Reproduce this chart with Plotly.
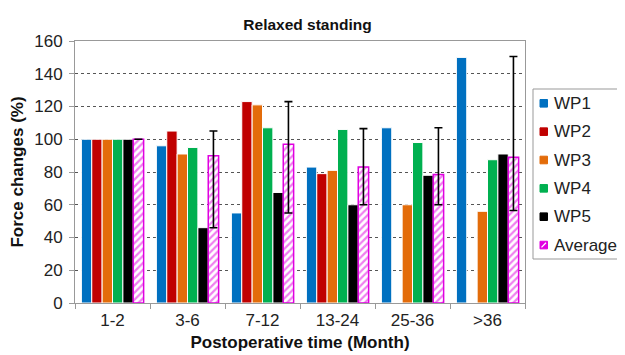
import plotly.graph_objects as go

categories = ["1-2", "3-6", "7-12", "13-24", "25-36", ">36"]
wp1 = [100, 96, 55, 83, 107, 150]
wp2 = [100, 105, 123, 79, None, None]
wp3 = [100, 91, 121, 81, 60, 56]
wp4 = [100, 95, 107, 106, 98, 87.5]
wp5 = [100, 46, 67.5, 60, 78, 91]
average = [100, 90, 97, 83, 78.5, 89]
err_max = [100, 105, 123, 106.5, 107, 150.5]
err_min = [100, 46, 55, 60, 60, 56.5]

names = ["WP1", "WP2", "WP3", "WP4", "WP5"]
colors = ["#0070C0", "#C00000", "#E36C0A", "#00B050", "#000000"]
values = [wp1, wp2, wp3, wp4, wp5]
avg_color = "#E000E0"

# figure geometry (the page body adds an 8px offset, so the figure is 617x347)
W, H = 617, 347
ML, MR, MT, MB = 67, 100, 33, 52
PW, PH = W - ML - MR, H - MT - MB

def px(x):
    return (x - ML) / PW

def py(y):
    return (H - MB - y) / PH

fig = go.Figure()
for name, vals, col in zip(names, values, colors):
    fig.add_trace(go.Bar(x=categories, y=vals, name=name,
                         marker=dict(color=col, line=dict(color="white", width=1))))

plus = [mx - a for mx, a in zip(err_max, average)]
minus = [a - mn for mn, a in zip(err_min, average)]
fig.add_trace(go.Bar(
    x=categories, y=average, name="Average",
    marker=dict(color="white", line=dict(color=avg_color, width=1.5),
                pattern=dict(shape="/", fgcolor=avg_color, bgcolor="white", size=5, solidity=0.45)),
    error_y=dict(type="data", symmetric=False, array=plus, arrayminus=minus,
                 color="black", thickness=1.6, width=4, visible=True)))

# legend drawn as a boxed key at the right (running past the page edge as in the source)
shapes = []
annotations = []
shapes.append(dict(type="rect", xref="paper", yref="paper",
                   x0=px(525), x1=px(640), y0=py(251), y1=py(81),
                   line=dict(color="#999999", width=1), fillcolor="white", layer="above"))
legend_names = names + ["Average"]
legend_cols = colors + [avg_color]
for i, (nm, col) in enumerate(zip(legend_names, legend_cols)):
    cy = 95.3 + i * 28.35
    shapes.append(dict(type="rect", xref="paper", yref="paper",
                       x0=px(532), x1=px(539.5), y0=py(cy + 3.8), y1=py(cy - 3.8),
                       line=dict(color=col, width=1), fillcolor=col, layer="above"))
    if nm == "Average":
        shapes.append(dict(type="line", xref="paper", yref="paper",
                           x0=px(533.5), x1=px(538), y0=py(cy + 2.3), y1=py(cy - 2.3),
                           line=dict(color="white", width=1.3), layer="above"))
    annotations.append(dict(text=nm, xref="paper", yref="paper", x=px(544), y=py(cy),
                            xanchor="left", yanchor="middle", showarrow=False,
                            font=dict(size=17, color="#222222")))

font_family = "Liberation Sans, Arial, sans-serif"
fig.update_layout(
    width=W, height=H,
    margin=dict(l=ML, r=MR, t=MT, b=MB, autoexpand=False),
    paper_bgcolor="white", plot_bgcolor="white",
    font=dict(family=font_family, size=17, color="#222222"),
    title=dict(text="<b>Relaxed standing</b>", x=px(299.5), xref="paper", xanchor="center",
               y=1 - 17 / H, yref="container", yanchor="middle",
               font=dict(size=15.5, color="#111111")),
    barmode="group", bargap=0.17, bargroupgap=0,
    showlegend=False,
    shapes=shapes, annotations=annotations,
)
fig.update_xaxes(
    title=dict(text="<b>Postoperative time (Month)</b>", font=dict(size=17, color="#111111"), standoff=6),
    showline=True, linecolor="#999999", linewidth=1, mirror=True, automargin=False,
    ticks="outside", tickson="boundaries", ticklen=5, tickcolor="#999999",
    ticklabelstandoff=2,
    tickfont=dict(size=17, color="#222222"), showgrid=False,
)
fig.update_yaxes(
    title=dict(text="<b>Force changes (%)</b>", font=dict(size=17, color="#111111"), standoff=12),
    range=[0, 160], dtick=20, showline=True, linecolor="#999999", linewidth=1, mirror=True,
    automargin=False,
    ticks="outside", ticklen=5, tickcolor="#999999", ticklabelstandoff=3,
    showgrid=True, gridcolor="#555555", griddash="dot", gridwidth=1,
    tickfont=dict(size=17, color="#222222"), zeroline=False,
)
fig.write_html("out.html")
